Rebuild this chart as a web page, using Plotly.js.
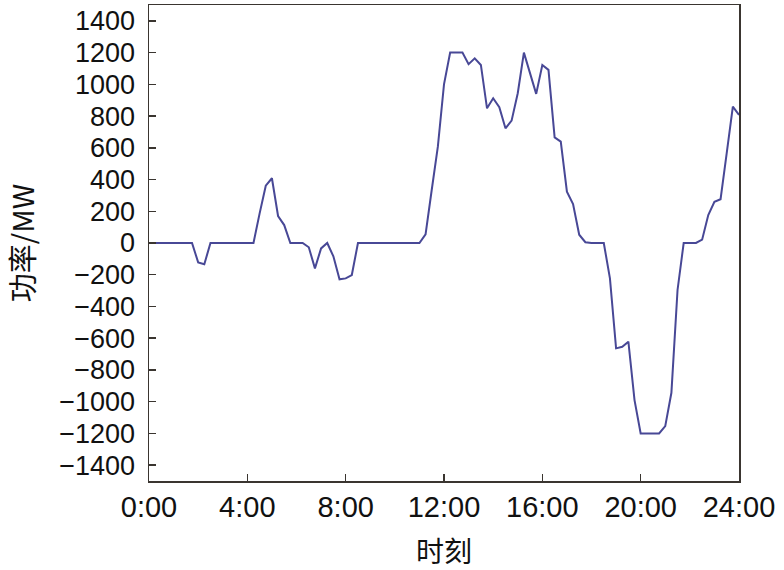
<!DOCTYPE html>
<html>
<head>
<meta charset="utf-8">
<script src="https://cdn.plot.ly/plotly-3.0.1.min.js"></script>
<style>html,body{margin:0;padding:0;background:#fff;}#chart{width:784px;height:570px;}</style>
</head>
<body>
<div id="chart"></div>
<script>
// Time in hours (break points of the curve)
const hours = [0, 1.75, 2.0, 2.25, 2.5, 4.25, 4.5, 4.75, 5.0, 5.25, 5.5, 5.75, 6.25, 6.5, 6.75, 7.0, 7.25, 7.5, 7.75, 8.0, 8.25, 8.5,
  11.0, 11.25, 11.5, 11.75, 12.0, 12.25, 12.75, 13.0, 13.25, 13.5, 13.75, 14.0, 14.25, 14.5, 14.75, 15.0, 15.25, 15.5, 15.75, 16.0,
  16.25, 16.5, 16.75, 17.0, 17.25, 17.5, 17.75, 18.0, 18.5, 18.75, 19.0, 19.25, 19.5, 19.75, 20.0, 20.75, 21.0, 21.25, 21.5, 21.75,
  22.25, 22.5, 22.75, 23.0, 23.25, 23.5, 23.75, 24.0];
// Power (MW)
const power = [0, 0, -122, -134, 0, 0, 187, 361, 408, 170, 113, 0, 0, -27, -160, -34, 0, -84, -229, -223, -202, 0,
  0, 55, 334, 607, 1000, 1200, 1200, 1127, 1164, 1122, 849, 912, 856, 723, 771, 944, 1200, 1070, 940, 1122,
  1091, 666, 639, 324, 246, 52, 5, 0, 0, -223, -664, -654, -622, -990, -1200, -1200, -1154, -944, -296, 0,
  0, 21, 176, 260, 276, 566, 860, 807];
const xTickVals = [0, 4, 8, 12, 16, 20, 24];
const xTickText = ['0:00', '4:00', '8:00', '12:00', '16:00', '20:00', '24:00'];
const yTickVals = [-1400, -1200, -1000, -800, -600, -400, -200, 0, 200, 400, 600, 800, 1000, 1200, 1400];
const yTickText = ['\u22121400', '\u22121200', '\u22121000', '\u2212800', '\u2212600', '\u2212400', '\u2212200', '0', '200', '400', '600', '800', '1000', '1200', '1400'];

const trace = {
  x: hours, y: power, type: 'scatter', mode: 'lines',
  line: {color: 'rgb(72,72,150)', width: 2},
  hoverinfo: 'skip'
};
const axisFrame = {
  showline: true, mirror: true, linecolor: '#3a3530', linewidth: 1.5,
  ticks: 'inside', ticklen: 7, tickwidth: 1.5, tickcolor: '#3a3530',
  showgrid: false, zeroline: false
};
const layout = {
  width: 784, height: 570,
  margin: {l: 149, r: 45, t: 5, b: 89},
  paper_bgcolor: '#fff', plot_bgcolor: '#fff',
  showlegend: false,
  font: {family: 'Liberation Sans, Arial, sans-serif', color: '#111'},
  xaxis: Object.assign({}, axisFrame, {
    range: [0, 24], tickmode: 'array', tickvals: xTickVals, ticktext: xTickText,
    tickfont: {size: 29, family: 'Liberation Sans, Arial, sans-serif', color: '#111'},
    title: {text: '时刻', font: {size: 28, family: 'Noto Sans CJK SC, sans-serif', color: '#111'}, standoff: 20}
  }),
  yaxis: Object.assign({}, axisFrame, {
    range: [-1500, 1500], tickmode: 'array', tickvals: yTickVals, ticktext: yTickText,
    ticklabelstandoff: 7,
    tickfont: {size: 27, family: 'Liberation Sans, Arial, sans-serif', color: '#111'},
    title: {text: '功率/MW', font: {size: 29, family: 'Noto Sans CJK SC, sans-serif', color: '#111'}, standoff: 20}
  })
};
Plotly.newPlot('chart', [trace], layout, {staticPlot: true, displayModeBar: false});
</script>
</body>
</html>
